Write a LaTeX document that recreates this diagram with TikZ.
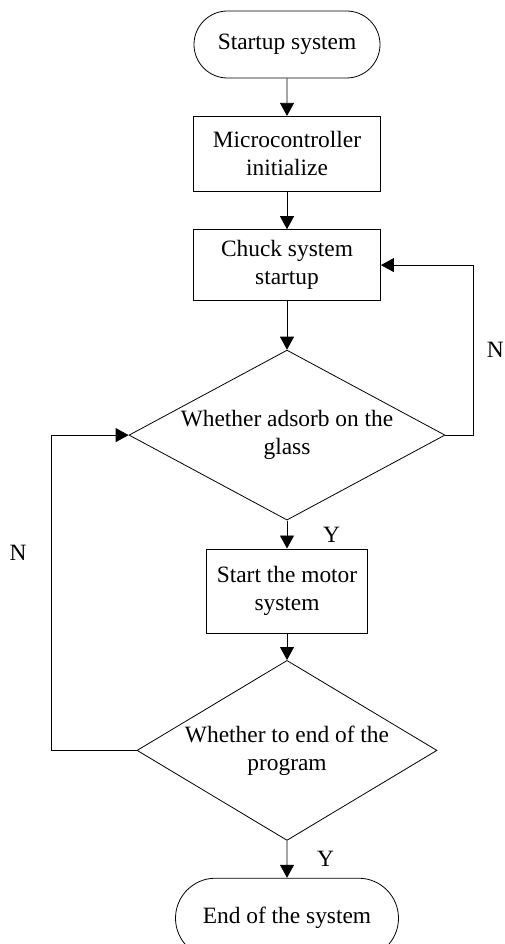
\documentclass[tikz,border=0pt]{standalone}
\usepackage{fontspec}
\setmainfont{Liberation Serif}
\usetikzlibrary{arrows.meta, positioning, shapes.geometric, shapes.misc}

\begin{document}
\begin{tikzpicture}[
    x=1pt, y=-1pt,
    line width=0.8pt,
    every node/.style={font=\fontsize{23.4}{28}\selectfont},
    term/.style={rounded rectangle, draw=black, minimum width=186pt,
                 minimum height=67pt, inner sep=0pt},
    proc/.style={rectangle, draw=black, minimum width=187pt, align=center, inner sep=0pt},
    decide/.style={diamond, draw=black, aspect=1.8, align=center, inner sep=0pt},
    tag/.style={inner sep=0pt},
    arrow/.style={-{Triangle[length=13pt, width=14pt]}}
]
    \useasboundingbox (0,0) rectangle (504,944);

    \node[term] (start) at (287,44.5) {Startup system};
    \node[proc, minimum height=75pt, below=37.5pt of start] (mcu) {Microcontroller\\initialize};
    \node[proc, minimum height=71pt, below=37.5pt of mcu] (chuck) {Chuck system\\startup};
    \node[decide, minimum width=316pt, minimum height=170pt, below=48.7pt of chuck] (adsorb)
        {Whether adsorb on the\\glass};
    \node[proc, minimum width=161pt, minimum height=84pt, below=28pt of adsorb] (motor)
        {Start the motor\\system};
    \node[decide, minimum width=300pt, minimum height=180pt, below=26.7pt of motor] (finish)
        {Whether to end of the\\program};
    \node[term, minimum width=223pt, minimum height=80pt, below=37pt of finish] (stop)
        {End of the system};

    \draw[arrow] (start) -- (mcu);
    \draw[arrow] (mcu) -- (chuck);
    \draw[arrow] (chuck) -- (adsorb);
    \draw[arrow] (adsorb) -- node[tag, right=35.7pt] {Y} (motor);
    \draw[arrow] (motor) -- (finish);
    \draw[arrow] (finish) -- node[tag, right=29.7pt] {Y} (stop);

    % loops back
    \draw[arrow] (adsorb.east) -- ++(28,0) |- node[tag, pos=0.25, right=13pt] {N} (chuck.east);
    \draw[arrow] (finish.west) -- ++(-85,0) |- node[tag, pos=0.314, left=24.7pt] {N} (adsorb.west);
\end{tikzpicture}
\end{document}
